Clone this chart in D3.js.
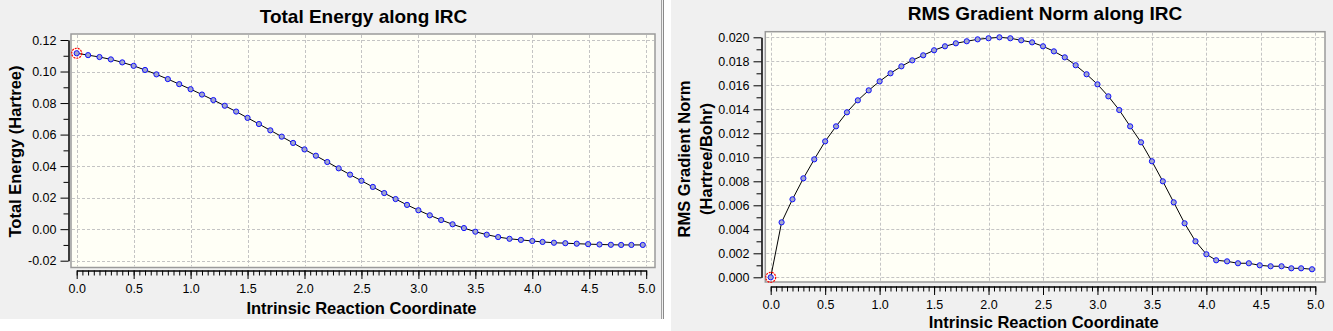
<!DOCTYPE html>
<html>
<head>
<meta charset="utf-8">
<script src="https://cdnjs.cloudflare.com/ajax/libs/d3/7.8.5/d3.min.js"></script>
<style>
body { margin: 0; background: #ffffff; }
svg text { font-family: "Liberation Sans", Arial, sans-serif; fill: #000; }
</style>
</head>
<body>
<svg width="1333" height="331"></svg>
<script>
// IRC coordinate of each point (same path for both plots)
var irc = [0.0, 0.1, 0.2, 0.3, 0.4, 0.5, 0.6, 0.7, 0.8, 0.9,
           1.0, 1.1, 1.2, 1.3, 1.4, 1.5, 1.6, 1.7, 1.8, 1.9,
           2.0, 2.1, 2.2, 2.3, 2.4, 2.5, 2.6, 2.7, 2.8, 2.9,
           3.0, 3.1, 3.2, 3.3, 3.4, 3.5, 3.6, 3.7, 3.8, 3.9,
           4.0, 4.09, 4.19, 4.29, 4.39, 4.49, 4.59, 4.69, 4.78, 4.87, 4.97];

// total energy (Hartree, relative)
var energy = [0.1116, 0.1104, 0.1092, 0.1077, 0.1058, 0.1036, 0.1010, 0.0982, 0.0952, 0.0920,
              0.0888, 0.0854, 0.0819, 0.0783, 0.0746, 0.0706, 0.0667, 0.0627, 0.0587, 0.0547,
              0.0506, 0.0466, 0.0426, 0.0386, 0.0346, 0.0307, 0.0268, 0.0229, 0.0191, 0.0154,
              0.0120, 0.0088, 0.0058, 0.0031, 0.0007, -0.0016, -0.0035, -0.0050, -0.0061, -0.0068,
              -0.0075, -0.0081, -0.0086, -0.0089, -0.0092, -0.0095, -0.0097, -0.0099, -0.0100, -0.0100, -0.0100];

// RMS gradient norm (Hartree/Bohr)
var gradient = [0.0000, 0.00458, 0.0065, 0.00825, 0.00983, 0.01133, 0.01258, 0.01375, 0.01475, 0.01558,
                0.01633, 0.0170, 0.01758, 0.01808, 0.0185, 0.01892, 0.01925, 0.0195, 0.01967, 0.01983,
                0.01992, 0.0200, 0.01992, 0.01975, 0.01958, 0.01925, 0.01883, 0.01833, 0.01767, 0.01692,
                0.01608, 0.01508, 0.01394, 0.01258, 0.01125, 0.00967, 0.0080, 0.00625, 0.0045, 0.0030,
                0.00192, 0.00142, 0.00133, 0.00117, 0.00117, 0.0010, 0.00092, 0.00092, 0.00075, 0.00075, 0.00067];

// tick values and labels
var xTicks = [0, 0.5, 1.0, 1.5, 2.0, 2.5, 3.0, 3.5, 4.0, 4.5, 5.0];
var xTickLabels = ['0.0', '0.5', '1.0', '1.5', '2.0', '2.5', '3.0', '3.5', '4.0', '4.5', '5.0'];
var energyTicks = [-0.02, 0.00, 0.02, 0.04, 0.06, 0.08, 0.10, 0.12];
var energyTickLabels = ['-0.02', '0.00', '0.02', '0.04', '0.06', '0.08', '0.10', '0.12'];
var gradTicks = [0, 0.002, 0.004, 0.006, 0.008, 0.010, 0.012, 0.014, 0.016, 0.018, 0.020];
var gradTickLabels = ['0.000', '0.002', '0.004', '0.006', '0.008', '0.010', '0.012', '0.014', '0.016', '0.018', '0.020'];

var svg = d3.select('svg');
var font = '"Liberation Sans", Arial, sans-serif';

// window backgrounds + splitter
svg.append('rect').attr('x', 0).attr('y', 0).attr('width', 664).attr('height', 319).style('fill', '#f0f0f0');
svg.append('rect').attr('x', 671).attr('y', 0).attr('width', 662).attr('height', 331).style('fill', '#f0f0f0');
svg.append('line').attr('x1', 661.5).attr('x2', 661.5).attr('y1', 0).attr('y2', 319).style('stroke', '#a0a0a0');
svg.append('line').attr('x1', 663.5).attr('x2', 663.5).attr('y1', 0).attr('y2', 319).style('stroke', '#8a8a8a');

function drawPanel(p) {
    var g = svg.append('g');

    var x = d3.scaleLinear().domain([0, 5]).range([p.xLeft, p.xRight]);
    var y = d3.scaleLinear().domain([p.yTicks[0], p.yTicks[p.yTicks.length - 1]]).range([p.yBottom, p.yTop]);

    // plot area
    g.append('rect')
        .attr('x', p.box[0]).attr('y', p.box[1])
        .attr('width', p.box[2] - p.box[0]).attr('height', p.box[3] - p.box[1])
        .style('fill', '#fffff6')
        .style('stroke', '#9a9a9a')
        .style('stroke-width', 1.5);

    // dashed grid
    g.selectAll('.vgrid').data(xTicks).enter().append('line')
        .attr('x1', function(d) { return Math.round(x(d)) + 0.5; })
        .attr('x2', function(d) { return Math.round(x(d)) + 0.5; })
        .attr('y1', p.box[1] + 1).attr('y2', p.box[3] - 1)
        .style('stroke', '#c4c4c4').style('stroke-dasharray', '3,2');
    g.selectAll('.hgrid').data(p.yTicks).enter().append('line')
        .attr('y1', function(d) { return Math.round(y(d)) + 0.5; })
        .attr('y2', function(d) { return Math.round(y(d)) + 0.5; })
        .attr('x1', p.box[0] + 1).attr('x2', p.box[2] - 1)
        .style('stroke', '#c4c4c4').style('stroke-dasharray', '3,2');

    // axes
    var yAxis = d3.axisLeft(y).tickValues(p.yTicks).tickSize(8).tickSizeOuter(0).tickPadding(4)
        .tickFormat(function(d, i) { return p.yLabels[i]; });
    var yMinor = d3.axisLeft(y).tickValues(p.yMinor).tickSize(5).tickSizeOuter(0).tickFormat('');
    var xAxis = d3.axisBottom(x).tickValues(xTicks).tickSize(8.5).tickSizeOuter(0).tickPadding(5)
        .tickFormat(function(d, i) { return xTickLabels[i]; });
    var xMinor = d3.axisBottom(x).tickValues(d3.range(0, 5.001, 0.05)).tickSize(5).tickSizeOuter(0).tickFormat('');

    g.append('g').attr('transform', 'translate(' + p.yAxisX + ',0)').call(yMinor);
    g.append('g').attr('transform', 'translate(' + p.yAxisX + ',0)').call(yAxis);
    g.append('g').attr('transform', 'translate(0,' + p.xAxisY + ')').call(xMinor);
    g.append('g').attr('transform', 'translate(0,' + p.xAxisY + ')').call(xAxis);
    g.selectAll('.tick text').attr('font-size', 12.5).attr('font-family', font);
    g.selectAll('.domain, .tick line').style('stroke', '#000');

    // curve + markers
    var line = d3.line()
        .x(function(d, i) { return x(irc[i]); })
        .y(function(d) { return y(d); });
    g.append('path').datum(p.values).attr('d', line)
        .style('fill', 'none').style('stroke', '#000').style('stroke-width', 1);
    g.selectAll('.pt').data(p.values).enter().append('circle')
        .attr('cx', function(d, i) { return x(irc[i]); })
        .attr('cy', function(d) { return y(d); })
        .attr('r', 2.6)
        .style('fill', '#a2a6cc').style('stroke', '#1010ff').style('stroke-width', 1);
    // current point highlight
    g.append('circle')
        .attr('cx', x(irc[0])).attr('cy', y(p.values[0])).attr('r', 5)
        .style('fill', 'none').style('stroke', '#ff0000').style('stroke-width', 1.2)
        .style('stroke-dasharray', '2,1');

    // titles
    g.append('text').attr('x', p.titlePos[0]).attr('y', p.titlePos[1])
        .attr('text-anchor', 'middle').style('font-size', '19px').style('font-weight', 'bold')
        .text(p.title);
    g.append('text').attr('x', p.xLabelPos[0]).attr('y', p.xLabelPos[1])
        .attr('text-anchor', 'middle').style('font-size', '16.5px').style('font-weight', 'bold')
        .text('Intrinsic Reaction Coordinate');
    p.yLabel.forEach(function(t, i) {
        g.append('text')
            .attr('transform', 'translate(' + p.yLabelPos[i][0] + ',' + p.yLabelPos[i][1] + ') rotate(-90)')
            .attr('text-anchor', 'middle').style('font-size', '16.5px').style('font-weight', 'bold')
            .text(t);
    });
}

drawPanel({
    values: energy,
    yTicks: energyTicks, yLabels: energyTickLabels,
    yMinor: [-0.01, 0.01, 0.03, 0.05, 0.07, 0.09, 0.11],
    xLeft: 76.7, xRight: 646.2, yBottom: 260.7, yTop: 40,
    box: [71, 34, 655, 267.5],
    yAxisX: 68.5, xAxisY: 270.5,
    title: 'Total Energy along IRC', titlePos: [363.5, 22.7],
    xLabelPos: [361.5, 314],
    yLabel: ['Total Energy (Hartree)'], yLabelPos: [[20.7, 151.5]]
});

drawPanel({
    values: gradient,
    yTicks: gradTicks, yLabels: gradTickLabels,
    yMinor: [0.001, 0.003, 0.005, 0.007, 0.009, 0.011, 0.013, 0.015, 0.017, 0.019],
    xLeft: 770.7, xRight: 1315.3, yBottom: 277.3, yTop: 37.3,
    box: [765.3, 31.7, 1325, 282],
    yAxisX: 761.5, xAxisY: 286.5,
    title: 'RMS Gradient Norm along IRC', titlePos: [1045, 19.5],
    xLabelPos: [1043.7, 328.3],
    yLabel: ['RMS Gradient Norm', '(Hartree/Bohr)'], yLabelPos: [[690, 159], [711.5, 159]]
});
</script>
</body>
</html>
